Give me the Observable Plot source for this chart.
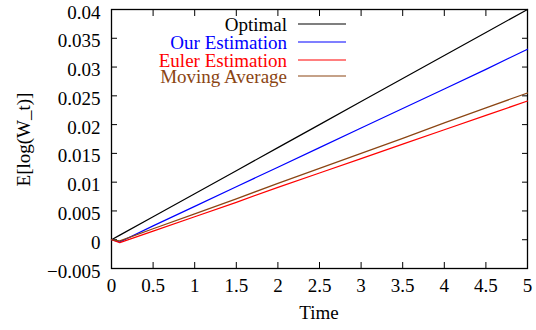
<!DOCTYPE html>
<html><head><meta charset="utf-8">
<script src="https://cdn.jsdelivr.net/npm/d3@7"></script>
<script src="https://cdn.jsdelivr.net/npm/@observablehq/plot@0.6"></script>
<style>
body{margin:0;background:#fff;}
#wrap{position:relative;width:536px;height:330px;overflow:hidden;}
#wrap > svg{position:absolute;left:0;top:0;}
.lab{position:absolute;font-family:'Liberation Serif','Times New Roman','DejaVu Serif',serif;font-size:19px;line-height:19px;white-space:nowrap;color:#000;}
</style>
</head><body><div id="wrap"></div>
<script>
const times = [0, 0.1, 0.5, 1, 1.5, 2, 2.5, 3, 3.5, 4, 4.5, 5];
const optimal = [0, 0.0008, 0.004, 0.008, 0.012, 0.016, 0.020, 0.024, 0.028, 0.032, 0.036, 0.040];
const ours    = [0, -0.0004, 0.0024, 0.0058, 0.0092, 0.0126, 0.0160, 0.0194, 0.0228, 0.0262, 0.0296, 0.0331];
const euler   = [0, -0.0005, 0.0015, 0.0040, 0.0065, 0.0091, 0.0116, 0.0141, 0.0166, 0.0191, 0.0216, 0.0241];
const movAvg  = [0, -0.0002, 0.0019, 0.0045, 0.0071, 0.0098, 0.0124, 0.0150, 0.0176, 0.0203, 0.0229, 0.0255];
const seriesNames = ["Optimal", "Our Estimation", "Euler Estimation", "Moving Average"];
const seriesColors = ["#000000", "#0000ff", "#ff0000", "#8b4513"];
const xTicks = [0, 0.5, 1, 1.5, 2, 2.5, 3, 3.5, 4, 4.5, 5];
const xTickLabels = ["0", "0.5", "1", "1.5", "2", "2.5", "3", "3.5", "4", "4.5", "5"];
const yTicks = [-0.005, 0, 0.005, 0.01, 0.015, 0.02, 0.025, 0.03, 0.035, 0.04];
const yTickLabels = ["\u22120.005", "0", "0.005", "0.01", "0.015", "0.02", "0.025", "0.03", "0.035", "0.04"];

const allSeries = [optimal, ours, euler, movAvg];
const rows = [];
allSeries.forEach((vals, si) => vals.forEach((v, i) => rows.push({t: times[i], v, s: seriesNames[si]})));

const fx = d => xTickLabels[xTicks.indexOf(d)];
const fy = d => yTickLabels[yTicks.findIndex(t => Math.abs(t - d) < 1e-9)];
const FS = 19;
const FF = "Liberation Serif, Times New Roman, DejaVu Serif, serif";

const chart = Plot.plot({
  width: 536, height: 330,
  marginLeft: 111, marginRight: 9, marginTop: 9, marginBottom: 62,
  x: {domain: [0, 5]},
  y: {domain: [-0.005, 0.04]},
  color: {domain: seriesNames, range: seriesColors},
  marks: [
    Plot.frame({stroke: "#000", strokeWidth: 1.3}),
    Plot.axisX(xTicks, {anchor: "bottom", tickSize: 0, tickPadding: 10, tickFormat: fx, label: null, fontSize: FS, fontFamily: FF}),
    Plot.axisX(xTicks, {anchor: "bottom", tickSize: -6, text: null, label: null}),
    Plot.axisX(xTicks, {anchor: "top", tickSize: -6, text: null, label: null}),
    Plot.axisY(yTicks, {anchor: "left", tickSize: 0, tickPadding: 11, dy: 3, tickFormat: fy, label: null, fontSize: FS, fontFamily: FF}),
    Plot.axisY(yTicks, {anchor: "left", tickSize: -6, text: null, label: null}),
    Plot.axisY(yTicks, {anchor: "right", tickSize: -6, text: null, label: null}),
    Plot.line(rows, {x: "t", y: "v", z: "s", stroke: "s", strokeWidth: 1.2})
  ]
});
chart.setAttribute("font-family", FF);
chart.setAttribute("font-size", FS);

const wrap = document.getElementById("wrap");
wrap.appendChild(chart);

function addLab(str, css, color) {
  const d = document.createElement("div");
  d.className = "lab";
  d.textContent = str;
  Object.assign(d.style, css);
  if (color) d.style.color = color;
  wrap.appendChild(d);
}
addLab("Time", {left: "219px", top: "303px", width: "200px", textAlign: "center"});
addLab("E[log(W_t)]", {left: "-77px", top: "130px", width: "200px", textAlign: "center", transform: "rotate(-90deg)"});

const ns = "http://www.w3.org/2000/svg";
const legendRows = [25, 43, 61, 77];
seriesNames.forEach((n, i) => {
  addLab(n, {right: (536 - 287) + "px", top: (legendRows[i] - 10) + "px", textAlign: "right"}, seriesColors[i]);
  const g = document.createElementNS(ns, "g");
  g.setAttribute("stroke", seriesColors[i]);
  chart.appendChild(g);
  const l = document.createElementNS(ns, "line");
  l.setAttribute("x1", 298); l.setAttribute("x2", 346);
  l.setAttribute("y1", legendRows[i] - 1); l.setAttribute("y2", legendRows[i] - 1);
  l.setAttribute("stroke", seriesColors[i]); l.setAttribute("stroke-width", 1.2);
  g.appendChild(l);
});
</script>
</body></html>
